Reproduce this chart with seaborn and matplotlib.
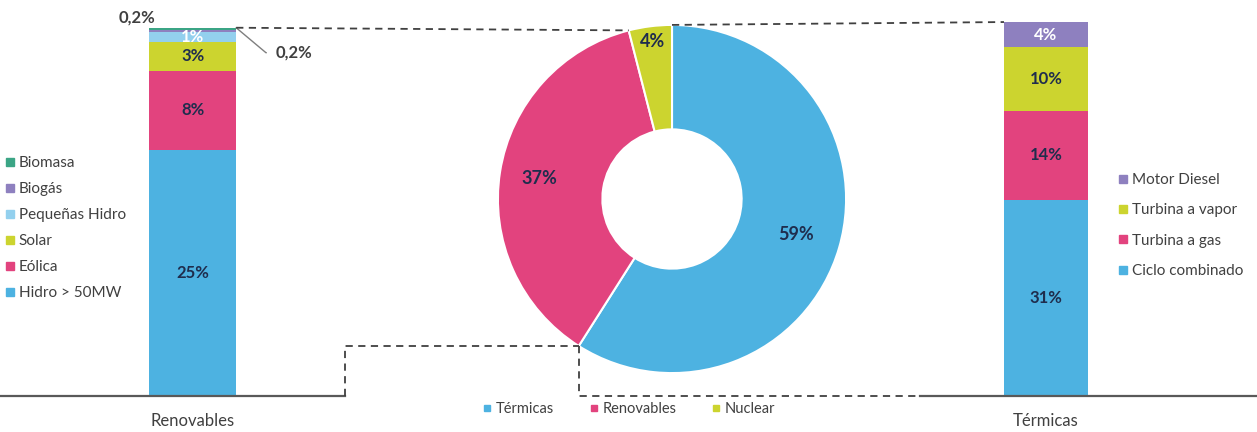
import numpy as np
import matplotlib.pyplot as plt
import seaborn as sns
from matplotlib.lines import Line2D

# Data
renov_cats = ['Hidro > 50MW', 'Eólica', 'Solar', 'Pequeñas Hidro', 'Biogás', 'Biomasa']
renov_vals = [25, 8, 3, 1, 0.2, 0.2]
renov_labels = ['25%', '8%', '3%', '1%', None, None]

term_cats = ['Ciclo combinado', 'Turbina a gas', 'Turbina a vapor', 'Motor Diesel']
term_vals = [31, 14, 10, 4]
term_labels = ['31%', '14%', '10%', '4%']

mix_cats = ['Térmicas', 'Renovables', 'Nuclear']
mix_vals = [59, 37, 4]
mix_labels = ['59%', '37%', '4%']

# Colours / styles
BLUE, PINK, LIME, PURPLE, LBLUE, TEAL = '#4DB2E1', '#E2437E', '#CCD42F', '#8E80BF', '#93D0EE', '#3BA585'
renov_colors = [BLUE, PINK, LIME, LBLUE, PURPLE, TEAL]
term_colors = [BLUE, PINK, LIME, PURPLE]
mix_colors = [BLUE, PINK, LIME]
DARK = '#1F2D4D'
renov_lab_colors = [DARK, DARK, DARK, 'white', DARK, DARK]
term_lab_colors = [DARK, DARK, DARK, 'white']
TXT = '#404040'

sns.set_style('white')
plt.rcParams['font.family'] = ['Lato', 'DejaVu Sans']

W, H = 1257, 432
fig = plt.figure(figsize=(W / 100, H / 100), dpi=100)
fig.patch.set_facecolor('white')


def px_rect(x0, y0, x1, y1):
    # pixel box (top-left origin) -> figure fraction rect
    return [x0 / W, 1 - y1 / H, (x1 - x0) / W, (y1 - y0) / H]


ax_l = fig.add_axes(px_rect(0, 10, 345, 396))
ax_r = fig.add_axes(px_rect(920, 10, 1257, 396))
ax_d = fig.add_axes(px_rect(492, 19, 852, 379))


def stacked(ax, cat, vals, colors, labels, lab_colors):
    bottom = 0
    for v, c, lab, lc in zip(vals, colors, labels, lab_colors):
        sns.barplot(x=[cat], y=[v], bottom=bottom, color=c, saturation=1,
                    width=0.8, linewidth=0, errorbar=None, ax=ax)
        if lab:
            ax.text(0, bottom + v / 2, lab, ha='center', va='center',
                    fontsize=12, fontweight='bold', color=lc)
        bottom += v
    return bottom


def style_bar_axis(ax, xlim, ylim_top):
    ax.set_xlim(*xlim)
    ax.set_ylim(0, ylim_top)
    for s in ['left', 'right', 'top']:
        ax.spines[s].set_visible(False)
    ax.spines['bottom'].set_color('#595959')
    ax.spines['bottom'].set_linewidth(1.6)
    ax.set_yticks([])
    ax.set_ylabel('')
    ax.tick_params(axis='x', length=0, pad=12, labelsize=12, labelcolor=TXT)
    ax.set_facecolor('none')


tot_r = stacked(ax_l, 'Renovables', renov_vals, renov_colors, renov_labels, renov_lab_colors)
style_bar_axis(ax_l, (-1.77, 1.40), 39.2)

tot_t = stacked(ax_r, 'Térmicas', term_vals, term_colors, term_labels, term_lab_colors)
style_bar_axis(ax_r, (-1.2, 2.01), 60.9)

# small 0,2% labels
ax_l.annotate('0,2%', xy=(-0.4, tot_r), xytext=(6, 10), textcoords='offset pixels',
              ha='right', va='center', fontsize=12, fontweight='bold', color=TXT)
ax_l.annotate('0,2%', xy=(0.4, tot_r), xytext=(39, -25), textcoords='offset pixels',
              ha='left', va='center', fontsize=12, fontweight='bold', color=TXT,
              arrowprops=dict(arrowstyle='-', color='#7F7F7F', lw=1,
                              shrinkA=4, shrinkB=0,
                              connectionstyle='angle,angleA=0,angleB=-40,rad=0'))

# donut
wedges, _ = ax_d.pie(mix_vals, colors=mix_colors, startangle=90, counterclock=False,
                     wedgeprops=dict(width=0.6, edgecolor='white', linewidth=1.5))
ax_d.set_xlim(-1.034, 1.034)
ax_d.set_ylim(-1.034, 1.034)
fracs = np.cumsum([0] + mix_vals) / sum(mix_vals)
lab_r = [0.74, 0.77, 0.91]
for i, lab in enumerate(mix_labels):
    mid = np.deg2rad(90 - 360 * (fracs[i] + fracs[i + 1]) / 2)
    ax_d.text(lab_r[i] * np.cos(mid), lab_r[i] * np.sin(mid), lab, ha='center', va='center',
              fontsize=13, fontweight='bold', color=DARK)

# legends
def sq_handles(colors, size):
    return [Line2D([], [], marker='s', linestyle='none', markersize=size,
                   markerfacecolor=c, markeredgecolor=c) for c in colors]

fig.legend(sq_handles(renov_colors[::-1], 6), renov_cats[::-1], loc='upper left',
           bbox_to_anchor=(5 / W, 1 - 156 / H), frameon=False, fontsize=11,
           labelcolor=TXT, handlelength=0.6, handletextpad=0.3, labelspacing=0.79,
           borderaxespad=0, borderpad=0)
fig.legend(sq_handles(term_colors[::-1], 6), term_cats[::-1], loc='upper left',
           bbox_to_anchor=(1118 / W, 1 - 173 / H), frameon=False, fontsize=11,
           labelcolor=TXT, handlelength=0.6, handletextpad=0.3, labelspacing=1.07,
           borderaxespad=0, borderpad=0)
fig.legend(sq_handles(mix_colors, 4), mix_cats, loc='center', ncol=3,
           bbox_to_anchor=(629 / W, 1 - 409 / H), frameon=False, fontsize=10.5,
           labelcolor=TXT, handlelength=0.6, handletextpad=0.3, columnspacing=2.4)

# dashed connectors
fig.canvas.draw()
to_fig = fig.transFigure.inverted()


def fpt(ax, xy, axes=False):
    t = ax.transAxes if axes else ax.transData
    return to_fig.transform(t.transform(xy))


def donut_pt(f):
    th = np.deg2rad(90 - 360 * f)
    return fpt(ax_d, (np.cos(th), np.sin(th)))


A = fpt(ax_l, (0.4, tot_r))
B = donut_pt(fracs[2])
C = donut_pt(0)
D = fpt(ax_r, (-0.4, tot_t))
E = fpt(ax_l, (1, 0), axes=True)
F = donut_pt(fracs[1])
G = fpt(ax_r, (0, 0), axes=True)

paths = [
    [A, B],
    [C, D],
    [E, (E[0], F[1]), F],
    [F, (F[0], G[1]), G],
]
for p in paths:
    p = np.array(p)
    fig.add_artist(Line2D(p[:, 0], p[:, 1], transform=fig.transFigure, color=TXT,
                          lw=1.3, dashes=(4, 3)))

fig.savefig('out.png', dpi=100, facecolor='white')
